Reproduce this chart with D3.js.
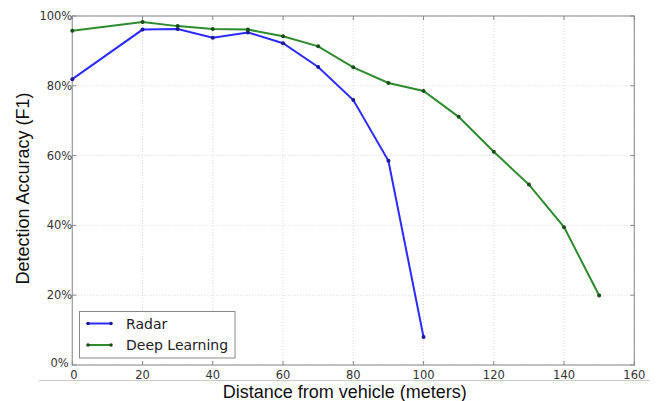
<!DOCTYPE html>
<html><head><meta charset="utf-8">
<script src="https://d3js.org/d3.v7.min.js"></script>
<style>body{margin:0;background:#fff}svg{display:block}</style>
</head><body><svg id="c" width="659" height="401"></svg>
<script>
const radarX = [0,20,30,40,50,60,70,80,90,100];
const radarY = [81.9,96.1,96.3,93.8,95.3,92.2,85.4,75.9,58.5,8.0];
const deepX = [0,20,30,40,50,60,70,80,90,100,110,120,130,140,150];
const deepY = [95.8,98.3,97.1,96.3,96.1,94.2,91.3,85.3,80.8,78.5,71.1,61.1,51.7,39.5,19.9];
const xTicks = [0,20,40,60,80,100,120,140,160];
const yTicks = [0,20,40,60,80,100];
const seriesNames = ["Radar","Deep Learning"];

const svg = d3.select("#c");
const L=72.3,R=634.3,T=16,B=365;
const x = d3.scaleLinear().domain([0,160]).range([L,R]);
const y = d3.scaleLinear().domain([0,100]).range([B,T]);
const font = "DejaVu Sans, sans-serif";
const labelFont = "Liberation Sans, Arial, sans-serif";

// grid
const g = svg.append("g");
g.selectAll(".gx").data(xTicks).enter().append("line")
  .attr("x1",d=>x(d)).attr("x2",d=>x(d)).attr("y1",T).attr("y2",B)
  .attr("stroke","#d8d8d8").attr("stroke-width",1).attr("stroke-dasharray","1,2");
g.selectAll(".gy").data(yTicks).enter().append("line")
  .attr("y1",d=>y(d)).attr("y2",d=>y(d)).attr("x1",L).attr("x2",R)
  .attr("stroke","#d8d8d8").attr("stroke-width",1).attr("stroke-dasharray","1,2");

// frame
svg.append("rect").attr("x",L).attr("y",T).attr("width",R-L).attr("height",B-T)
  .attr("fill","none").attr("stroke","#999").attr("stroke-width",1.2);

// inward ticks
xTicks.forEach(t=>{
  svg.append("line").attr("x1",x(t)).attr("x2",x(t)).attr("y1",B).attr("y2",B-4).attr("stroke","#888");
  svg.append("line").attr("x1",x(t)).attr("x2",x(t)).attr("y1",T).attr("y2",T+4).attr("stroke","#888");
});
yTicks.forEach(t=>{
  svg.append("line").attr("y1",y(t)).attr("y2",y(t)).attr("x1",L).attr("x2",L+4).attr("stroke","#888");
  svg.append("line").attr("y1",y(t)).attr("y2",y(t)).attr("x1",R).attr("x2",R-4).attr("stroke","#888");
});

// tick labels
svg.selectAll(".xt").data(xTicks).enter().append("text")
  .attr("x",d=>x(d)+(d===0?1.5:0)).attr("y",B+13.5).attr("text-anchor","middle")
  .attr("font-family",font).attr("font-size",11.5).attr("fill","#333").text(d=>d);
svg.selectAll(".yt").data(yTicks).enter().append("text")
  .attr("x",d=>d===0?L-3.5:L).attr("y",d=>y(d)+(d===0?2:4)).attr("text-anchor","end")
  .attr("font-family",font).attr("font-size",11.5).attr("fill","#333").text(d=>d+"%");

// bottom gray rule
svg.append("line").attr("x1",39).attr("x2",650).attr("y1",380.5).attr("y2",380.5).attr("stroke","#ccc");

// axis labels
svg.append("text").attr("x",344.7).attr("y",398.3).attr("text-anchor","middle")
  .attr("font-family",labelFont).attr("font-size",18).attr("fill","#111").text("Distance from vehicle (meters)");
svg.append("text").attr("transform",`translate(29,188.5) rotate(-90)`).attr("text-anchor","middle")
  .attr("font-family",labelFont).attr("font-size",18).attr("fill","#111").text("Detection Accuracy (F1)");

// series
const line = d3.line().x(d=>x(d[0])).y(d=>y(d[1]));
const series = [
  {name:seriesNames[0], data:radarX.map((v,i)=>[v,radarY[i]]), color:"#2b2bff", mark:"#1a1a99"},
  {name:seriesNames[1], data:deepX.map((v,i)=>[v,deepY[i]]), color:"#2e8b2e", mark:"#1a4d1a"}
];
series.forEach(s=>{
  svg.append("path").datum(s.data).attr("d",line).attr("fill","none")
    .attr("stroke",s.color).attr("stroke-width",2);
  svg.selectAll(null).data(s.data).enter().append("circle")
    .attr("cx",d=>x(d[0])).attr("cy",d=>y(d[1])).attr("r",2).attr("fill",s.mark);
});

// legend
svg.append("rect").attr("x",79.5).attr("y",311.5).attr("width",155.5).attr("height",46.5)
  .attr("fill","#fff").attr("stroke","#888").attr("stroke-width",1);
series.forEach((s,i)=>{
  const yy = 323.5 + i*21.5;
  svg.append("line").attr("x1",88).attr("x2",111).attr("y1",yy).attr("y2",yy).attr("stroke",s.color).attr("stroke-width",2);
  svg.append("circle").attr("cx",88).attr("cy",yy).attr("r",1.8).attr("fill",s.mark);
  svg.append("circle").attr("cx",111).attr("cy",yy).attr("r",1.8).attr("fill",s.mark);
  svg.append("text").attr("x",126).attr("y",yy+5).attr("font-family",font).attr("font-size",14)
    .attr("fill","#222").text(s.name);
});
</script></body></html>
